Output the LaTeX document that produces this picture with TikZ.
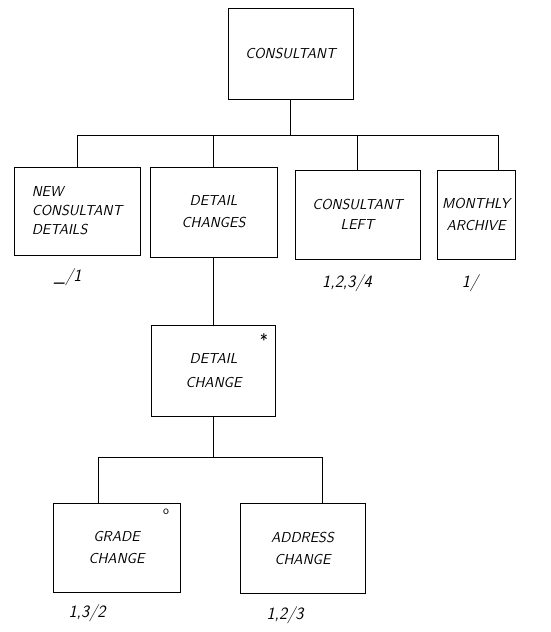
\documentclass[tikz,border=0pt]{standalone}
\usepackage{xcolor}

\begin{document}
\begin{tikzpicture}[x=1pt,y=1pt,yscale=-1,xscale=1,
	jbox/.style={draw, line width=0.8pt, inner sep=0.75pt, align=center, font=\sffamily\slshape\Large},
	seqlab/.style={inner sep=0.75pt, font=\sffamily\slshape\LARGE},
	mark sign/.style={inner sep=0.75pt, font=\sffamily\LARGE},
	link/.style={line width=0.8pt}]
		% Set diagram size to 551 x 632
		\useasboundingbox (0,0) rectangle (551,632);

		% Top box "CONSULTANT"
		\node[jbox, minimum width=125pt, minimum height=91pt] (cons) at (290.5,54) {CONSULTANT};

		% Second row of boxes
		\node[jbox, minimum width=126pt, minimum height=88pt, align=left] (newcd) at (77,211) {NEW\\[1pt]CONSULTANT\\[1pt]DETAILS};
		\node[jbox, minimum width=127pt, minimum height=90pt] (detch) at (213.5,212) {DETAIL\\[4pt]CHANGES};
		\node[jbox, minimum width=125pt, minimum height=89pt] (conleft) at (357.5,214.5) {CONSULTANT\\[2pt]LEFT};
		\node[jbox, minimum width=78pt, minimum height=89pt] (archive) at (476,214.5) {MONTHLY\\[4pt]ARCHIVE};

		% Iterated box "DETAIL CHANGE"
		\node[jbox, minimum width=124pt, minimum height=91pt] (detail) at (213.5,370.5) {DETAIL\\[6pt]CHANGE};
		\node[mark sign] (detailmark) at (264,340) {*};

		% Selection boxes at the bottom
		\node[jbox, minimum width=127pt, minimum height=89pt] (grade) at (116.5,547.5) {GRADE\\[4pt]CHANGE};
		\node[mark sign, font=\sffamily\large] (grademark) at (166,512) {o};
		\node[jbox, minimum width=125pt, minimum height=90pt] (addr) at (302.5,548) {ADDRESS\\[4pt]CHANGE};

		% Labels under the boxes
		\node[seqlab] (newcdno) at (68,277) {\_/1};
		\node[seqlab] (conleftno) at (347,283) {1,2,3/4};
		\node[seqlab] (archiveno) at (470,283) {1/};
		\node[seqlab] (gradeno) at (87,613) {1,3/2};
		\node[seqlab] (addrno) at (285,615) {1,2/3};

		% Connectors from "CONSULTANT" to the second row
		\coordinate (busA) at (290.5,135);
		\draw[link] (cons.south) -- (busA);
		\draw[link] (busA) -| (newcd.north);
		\draw[link] (busA) -| ([xshift=22pt]archive.north);
		\draw[link] (busA -| detch.north) -- (detch.north);
		\draw[link] (busA -| conleft.north) -- (conleft.north);

		% Connector from "DETAIL CHANGES" to "DETAIL CHANGE"
		\draw[link] (detch.south) -- (detail.north);

		% Connectors from "DETAIL CHANGE" to the bottom row
		\coordinate (busB) at (213.5,457);
		\draw[link] (detail.south) -- (busB);
		\draw[link] (busB) -| ([xshift=-18pt]grade.north);
		\draw[link] (busB) -| ([xshift=20pt]addr.north);
	\end{tikzpicture}
\end{document}
